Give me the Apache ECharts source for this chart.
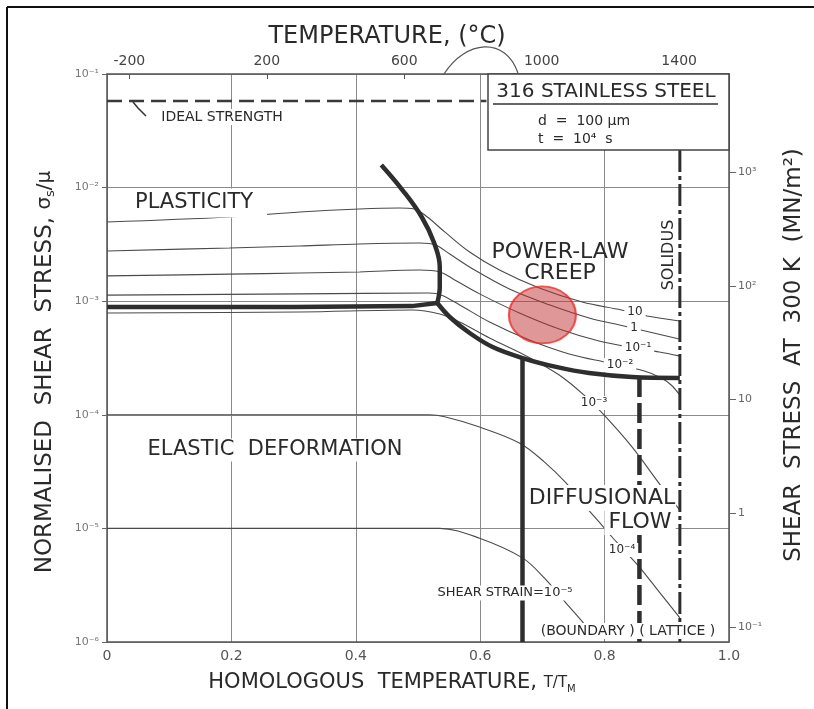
<!DOCTYPE html>
<html><head><meta charset="utf-8">
<script src="https://cdn.jsdelivr.net/npm/echarts@6/dist/echarts.min.js"></script>
<style>html,body{margin:0;padding:0;background:#fff}#c{width:814px;height:709px}</style>
</head><body><div id="c"></div>
<script>
// ---- axis ranges & ticks ----
const homologousRange = [0, 1.0];
const homologousTicks = [0, 0.2, 0.4, 0.6, 0.8, 1.0];
const normStressRange = [1e-6, 1e-1];
const temperatureRangeC = [-265, 1545];
const temperatureTicksC = [-200, 200, 600, 1000, 1400];
const stressRangeMN = [0.0735, 7350];
const stressTicksMN = [0.1, 1, 10, 100, 1000];

// ---- field boundaries (x = T/TM, y = sigma_s/mu) ----
const idealStrength = [[0, 5.78e-2], [0.61, 5.78e-2]];
const plasticElasticBoundary = [[0, 8.89e-4], [0.3, 8.9e-4], [0.49, 9.05e-4], [0.531, 9.64e-4]];
const plasticCreepBoundary = [[0.531, 9.64e-4], [0.535, 1.333e-3], [0.535, 2.0e-3], [0.526, 3.25e-3], [0.506, 5.51e-3], [0.475, 9.52e-3], [0.441, 1.582e-2]];
const creepElasticBoundary = [[0.531, 9.64e-4], [0.551, 7.26e-4], [0.583, 5.25e-4], [0.620, 3.95e-4], [0.668, 3.16e-4], [0.722, 2.64e-4], [0.775, 2.33e-4], [0.844, 2.15e-4], [0.921, 2.11e-4]];
const boundaryDiffusionEdge = [[0.668, 3.16e-4], [0.668, 1e-6]];
const latticeDiffusionEdge = [[0.856, 2.15e-4], [0.856, 1e-6]];
const solidusLine = [[0.921, 2.14e-2], [0.921, 1e-6]];

// ---- strain contours ----
const contour10 = [[0, 4.98e-3], [0.197, 5.51e-3], [0.310, 6.09e-3], [0.406, 6.48e-3], [0.470, 6.61e-3], [0.494, 6.48e-3], [0.515, 5.51e-3], [0.543, 4.07e-3], [0.583, 2.71e-3], [0.631, 1.88e-3], [0.695, 1.306e-3], [0.764, 9.84e-4], [0.827, 8.37e-4], [0.868, 7.41e-4], [0.920, 6.70e-4]];
const contour1 = [[0, 2.77e-3], [0.197, 2.94e-3], [0.310, 3.06e-3], [0.406, 3.19e-3], [0.502, 3.25e-3], [0.528, 3.13e-3], [0.551, 2.60e-3], [0.591, 1.88e-3], [0.647, 1.28e-3], [0.711, 9.3e-4], [0.775, 7.12e-4], [0.831, 6.05e-4], [0.872, 5.36e-4], [0.920, 4.65e-4]];
const contour1em1 = [[0, 1.67e-3], [0.197, 1.73e-3], [0.310, 1.77e-3], [0.406, 1.81e-3], [0.502, 1.88e-3], [0.535, 1.81e-3], [0.559, 1.54e-3], [0.599, 1.16e-3], [0.663, 7.87e-4], [0.727, 5.69e-4], [0.791, 4.46e-4], [0.848, 3.87e-4], [0.888, 3.57e-4], [0.920, 3.30e-4]];
const contour1em2 = [[0, 1.13e-3], [0.310, 1.16e-3], [0.518, 1.18e-3], [0.538, 1.13e-3], [0.567, 9.27e-4], [0.615, 6.56e-4], [0.679, 4.55e-4], [0.743, 3.43e-4], [0.807, 2.86e-4], [0.864, 2.43e-4], [0.891, 2.11e-4], [0.907, 1.83e-4], [0.921, 1.49e-4]];
const contour1em3 = [[0, 7.87e-4], [0.310, 8.04e-4], [0.491, 8.37e-4], [0.535, 7.71e-4], [0.567, 6.56e-4], [0.615, 4.74e-4], [0.674, 3.30e-4], [0.727, 2.24e-4], [0.767, 1.49e-4], [0.799, 9.96e-5], [0.844, 5.21e-5], [0.892, 2.31e-5], [0.921, 1.45e-5]];
const contour1em4 = [[0, 1.0e-4], [0.518, 1.0e-4], [0.543, 9.6e-5], [0.599, 7.8e-5], [0.663, 5.65e-5], [0.703, 3.85e-5], [0.738, 2.51e-5], [0.767, 1.61e-5], [0.791, 1.14e-5], [0.812, 8.4e-6], [0.831, 6.45e-6], [0.856, 4.57e-6], [0.888, 2.75e-6], [0.921, 1.63e-6]];
const contour1em5 = [[0, 1.0e-5], [0.535, 1.0e-5], [0.599, 8.2e-6], [0.668, 5.5e-6], [0.703, 3.66e-6], [0.738, 2.2e-6], [0.759, 1.63e-6], [0.775, 1.28e-6]];

// ---- highlighted point ----
const highlightPoint = [[0.700, 7.57e-4]];

const FONT = '"DejaVu Sans", "Liberation Sans", sans-serif';
const SUP = {'-': '⁻', '0': '⁰', '1': '¹', '2': '²', '3': '³', '4': '⁴', '5': '⁵', '6': '⁶', '7': '⁷', '8': '⁸', '9': '⁹'};
const sup = s => String(s).split('').map(c => SUP[c] || c).join('');

function line(data, width, type, color, smooth, z) {
  return {type: 'line', data: data, showSymbol: false, symbol: 'none', smooth: smooth || false,
    silent: true, z: z || 2, animation: false,
    lineStyle: {width: width, type: type, color: color, cap: 'butt'}};
}
function txt(x, y, text, size, extra) {
  const st = Object.assign({text: text, fontSize: size, fontFamily: FONT, fill: '#2a2a2a',
    align: 'center', verticalAlign: 'middle'}, (extra && extra.style) || {});
  const el = {type: 'text', x: x, y: y, z: 100, style: st};
  if (extra && extra.rotation) el.rotation = extra.rotation;
  return el;
}
const WB = {backgroundColor: '#fff', padding: [1, 3, 1, 3]};

const thin = '#4a4a4a', thick = '#2e2e2e';

const option = {
  animation: false,
  backgroundColor: '#fff',
  grid: {left: 107, right: 85, top: 74, bottom: 67},
  xAxis: [
    {type: 'value', min: homologousRange[0], max: homologousRange[1], interval: 0.2, position: 'bottom',
      axisLine: {show: true, onZero: false, lineStyle: {color: '#555', width: 1.5}},
      axisTick: {show: false},
      axisLabel: {color: '#555', fontSize: 14, fontFamily: FONT, margin: 7,
        formatter: v => homologousTicks.some(t => Math.abs(t - v) < 1e-6) ? (v === 0 ? '0' : v.toFixed(1)) : ''},
      splitLine: {show: true, lineStyle: {color: '#8a8a8a', width: 1}}},
    {type: 'value', min: temperatureRangeC[0], max: temperatureRangeC[1], position: 'top',
      axisLine: {show: true, onZero: false, lineStyle: {color: '#555', width: 1.5}},
      axisTick: {show: true, inside: true, length: 5, customValues: temperatureTicksC, lineStyle: {color: '#555'}},
      axisLabel: {customValues: temperatureTicksC, color: '#444', fontSize: 14, fontFamily: FONT, margin: 6,
        formatter: v => String(v)},
      splitLine: {show: false}}
  ],
  yAxis: [
    {type: 'log', logBase: 10, min: normStressRange[0], max: normStressRange[1], position: 'left',
      axisLine: {show: true, onZero: false, lineStyle: {color: '#555', width: 1.5}},
      axisTick: {show: true, length: 5, lineStyle: {color: '#666'}},
      axisLabel: {color: '#777', fontSize: 11, fontFamily: FONT, margin: 8,
        formatter: v => '10' + sup(Math.round(Math.log10(v)))},
      splitLine: {show: true, lineStyle: {color: '#8a8a8a', width: 1}},
      minorTick: {show: false}},
    {type: 'log', logBase: 10, min: stressRangeMN[0], max: stressRangeMN[1], position: 'right',
      axisLine: {show: true, onZero: false, lineStyle: {color: '#555', width: 1.5}},
      axisTick: {show: true, length: 7, lineStyle: {color: '#666'}},
      axisLabel: {color: '#666', fontSize: 11, fontFamily: FONT, margin: 9, showMinLabel: false, showMaxLabel: false,
        formatter: v => {
          const e = Math.round(Math.log10(v));
          if (!stressTicksMN.some(t => Math.abs(Math.log10(t) - e) < 1e-6)) return '';
          if (e === 0) return '1';
          if (e === 1) return '10';
          return '10' + sup(e);
        }},
      splitLine: {show: false}}
  ],
  series: [
    line(idealStrength, 2.5, [15, 7], '#3a3a3a'),
    line(contour10, 1.1, 'solid', thin, 0.35),
    line(contour1, 1.1, 'solid', thin, 0.35),
    line(contour1em1, 1.1, 'solid', thin, 0.35),
    line(contour1em2, 1.1, 'solid', thin, 0.35),
    line(contour1em3, 1.1, 'solid', thin, 0.35),
    line(contour1em4, 1.1, 'solid', thin, 0.35),
    line(contour1em5, 1.1, 'solid', thin, 0.35),
    line(plasticElasticBoundary, 4.5, 'solid', thick, false, 5),
    line(plasticCreepBoundary, 4.5, 'solid', thick, 0.4, 5),
    line(creepElasticBoundary, 4.5, 'solid', thick, 0.35, 5),
    line(boundaryDiffusionEdge, 4.5, 'solid', thick, false, 5),
    line(latticeDiffusionEdge, 4.5, [20, 6], thick, false, 5),
    line(solidusLine, 3, [22, 4, 4, 4], thick, false, 5),
    {type: 'scatter', data: highlightPoint, symbol: 'circle', symbolSize: [67, 57], z: 8, silent: true,
      itemStyle: {color: 'rgba(190,45,45,0.62)', borderColor: 'rgba(235,40,40,0.95)', borderWidth: 2}}
  ],
  graphic: [
    {type: 'line', z: 100, shape: {x1: 7, y1: 7, x2: 814, y2: 7}, style: {stroke: '#111', lineWidth: 2}},
    {type: 'line', z: 100, shape: {x1: 7, y1: 7, x2: 7, y2: 709}, style: {stroke: '#111', lineWidth: 2}},
    {type: 'bezierCurve', z: 100, shape: {x1: 444, y1: 74, x2: 518, y2: 73, cpx1: 466, cpy1: 40, cpx2: 505, cpy2: 36},
      style: {stroke: '#555', lineWidth: 1.2, fill: null}},
    // titles
    txt(387, 37, 'TEMPERATURE, (°C)', 24),
    {type: 'text', x: 392, y: 683, z: 100, style: {
      text: '{a|HOMOLOGOUS  TEMPERATURE, }{b|T/T}{c|M}', align: 'center', verticalAlign: 'middle',
      rich: {a: {fontSize: 21, fontFamily: FONT, fill: '#2a2a2a'}, b: {fontSize: 15, fontFamily: FONT, fill: '#2a2a2a'},
        c: {fontSize: 10, fontFamily: FONT, fill: '#2a2a2a', padding: [12, 0, 0, 0]}}}},
    {type: 'text', x: 45, y: 372, z: 100, rotation: Math.PI / 2, style: {
      text: '{a|NORMALISED  SHEAR  STRESS, }{b|σ}{c|s}{b|/μ}', align: 'center', verticalAlign: 'middle',
      rich: {a: {fontSize: 23, fontFamily: FONT, fill: '#2a2a2a'}, b: {fontSize: 20, fontFamily: FONT, fill: '#2a2a2a'},
        c: {fontSize: 13, fontFamily: FONT, fill: '#2a2a2a', padding: [12, 0, 0, 0]}}}},
    {type: 'text', x: 794, y: 355, z: 100, rotation: Math.PI / 2, style: {
      text: 'SHEAR  STRESS  AT  300 K  (MN/m²)', align: 'center', verticalAlign: 'middle',
      fontSize: 23, fontFamily: FONT, fill: '#2a2a2a'}},
    // info box
    {type: 'rect', z: 90, shape: {x: 488, y: 74, width: 241, height: 76}, style: {fill: '#fff', stroke: '#444', lineWidth: 1.5}},
    txt(606, 92, '316 STAINLESS STEEL', 20),
    {type: 'line', z: 100, shape: {x1: 493, y1: 104, x2: 718, y2: 104}, style: {stroke: '#333', lineWidth: 1.5}},
    txt(538, 121, 'd  =  100 μm', 14, {style: {align: 'left'}}),
    txt(538, 139, 't  =  10⁴  s', 14, {style: {align: 'left'}}),
    // ideal strength
    {type: 'polyline', z: 100, shape: {points: [[133, 102], [138, 108], [146, 116]]}, style: {stroke: '#333', lineWidth: 1.5, fill: null}},
    txt(222, 117, 'IDEAL STRENGTH', 14, {style: WB}),
    // field labels
    txt(192, 203, 'PLASTICITY', 21, {style: {backgroundColor: '#fff', padding: [4, 14, 4, 18]}}),
    txt(560, 252, 'POWER-LAW', 22),
    txt(560, 273, 'CREEP', 22),
    txt(275, 450, 'ELASTIC  DEFORMATION', 21, {style: WB}),
    txt(602, 498, 'DIFFUSIONAL', 22, {style: {backgroundColor: '#fff', padding: [2, 1, 2, 1]}}),
    txt(640, 522, 'FLOW', 22, {style: {backgroundColor: '#fff', padding: [2, 4, 2, 4]}}),
    txt(669, 255, 'SOLIDUS', 16, {rotation: Math.PI / 2}),
    txt(505, 593, 'SHEAR STRAIN=10⁻⁵', 13, {style: WB}),
    txt(628, 631, '(BOUNDARY ) ( LATTICE )', 14, {style: {backgroundColor: '#fff', padding: [1, 2, 1, 2]}}),
    // contour labels
    txt(635, 312, '10', 12, {style: WB}),
    txt(634, 328, '1', 12, {style: WB}),
    txt(638, 348, '10⁻¹', 12, {style: WB}),
    txt(620, 365, '10⁻²', 12, {style: WB}),
    txt(594, 403, '10⁻³', 12, {style: WB}),
    txt(622, 550, '10⁻⁴', 12, {style: WB})
  ]
};

const chart = echarts.init(document.getElementById('c'), null, {renderer: 'canvas'});
chart.setOption(option);
</script>
</body></html>
